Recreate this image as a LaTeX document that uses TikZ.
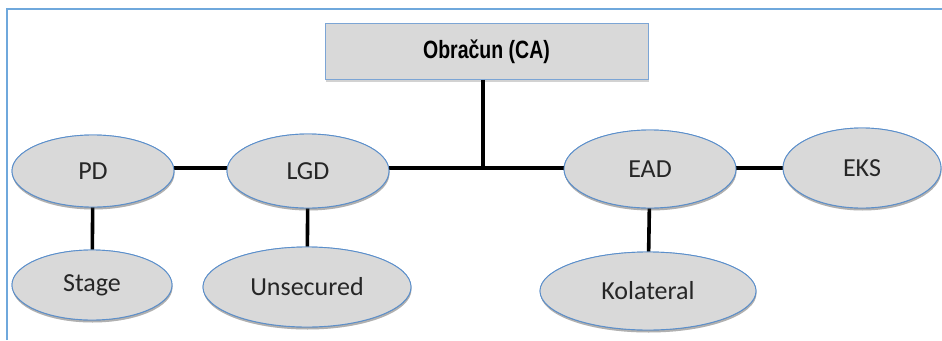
\documentclass[tikz,border=0pt]{standalone}
\usepackage{fontspec}
\setmainfont{Carlito}
\newfontfamily\boxfont[FakeStretch=0.78]{Liberation Sans}
\usetikzlibrary{shapes.geometric,shadows}
\definecolor{shapefill}{HTML}{D9D9D9}
\definecolor{shapeline}{HTML}{5B8FCB}
\definecolor{framecol}{HTML}{6FA8DC}
\definecolor{labeltext}{HTML}{262626}
\tikzset{
  oval/.style={ellipse, draw=shapeline, line width=0.9pt, fill=shapefill,
    inner sep=0pt, font=\fontsize{26}{28}\selectfont, text=labeltext,
    drop shadow={shadow xshift=0.5pt, shadow yshift=-2.5pt, opacity=0.25, fill=black!70}},
  headbox/.style={rectangle, draw=shapeline!80, line width=0.9pt, fill=shapefill,
    inner sep=0pt, minimum width=323pt, minimum height=56pt,
    font=\boxfont\bfseries\fontsize{25}{28}\selectfont,
    drop shadow={shadow xshift=0.5pt, shadow yshift=-2.5pt, opacity=0.25, fill=black!70}},
  link/.style={line width=3.6pt, black}
}
\begin{document}
\begin{tikzpicture}[x=1pt, y=-1pt]
  \useasboundingbox (0,0) rectangle (942,340);
  % outer frame (open to the right and bottom)
  \draw[framecol, line width=2pt] (6.5,340) -- (6.5,9) -- (942,9);

  % top box
  \node[headbox] (ca) at (486.5,51.5) {Obračun (CA)};

  % upper row
  \node[oval, minimum width=162pt, minimum height=72pt] (pd)  at (93,171)  {PD};
  \node[oval, minimum width=162pt, minimum height=74pt] (lgd) at (308,171) {LGD};
  \node[oval, minimum width=172pt, minimum height=78pt] (ead) at (650,169) {EAD};
  \node[oval, minimum width=158pt, minimum height=80pt] (eks) at (862,168) {EKS};

  % lower row
  \node[oval, minimum width=160pt, minimum height=70pt] (stage) at (92,285)  {Stage};
  \node[oval, minimum width=208pt, minimum height=80pt] (unsec) at (307,287) {Unsecured};
  \node[oval, minimum width=216pt, minimum height=78pt] (kol)   at (648,291) {Kolateral};

  % junction of the trunk line
  \coordinate (j) at (483,168);

  % connectors
  \draw[link] ([yshift=3pt]pd.east) -- ([yshift=3pt]lgd.west);
  \draw[link] ([yshift=3pt]lgd.east) -- (j) -- ([yshift=1pt]ead.west);
  \draw[link] (ca.south -| j) -- (j);
  \draw[link] ([yshift=1pt]ead.east) -- (eks.west);
  \draw[link] (pd) -- (stage);
  \draw[link] (lgd) -- (unsec);
  \draw[link] (ead) -- (kol);

  % redraw nodes above the connectors
  \node[oval, minimum width=162pt, minimum height=72pt] at (pd)  {PD};
  \node[oval, minimum width=162pt, minimum height=74pt] at (lgd) {LGD};
  \node[oval, minimum width=172pt, minimum height=78pt] at (ead) {EAD};
  \node[oval, minimum width=158pt, minimum height=80pt] at (eks) {EKS};
  \node[oval, minimum width=160pt, minimum height=70pt] at (stage) {Stage};
  \node[oval, minimum width=208pt, minimum height=80pt] at (unsec) {Unsecured};
  \node[oval, minimum width=216pt, minimum height=78pt] at (kol)   {Kolateral};
\end{tikzpicture}
\end{document}
